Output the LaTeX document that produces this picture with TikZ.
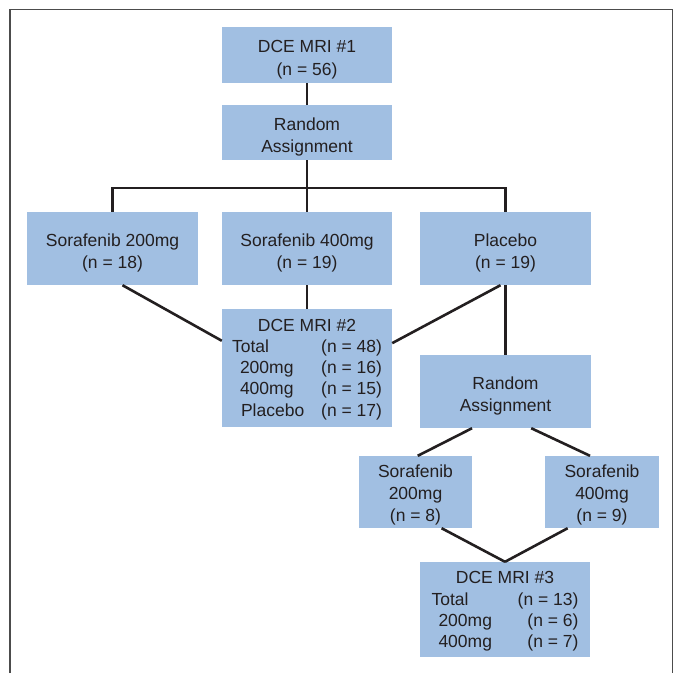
\documentclass[tikz,border=0pt]{standalone}
\usepackage{fontspec}
\setmainfont{Liberation Sans}
\usetikzlibrary{calc}
\definecolor{boxblue}{RGB}{161,191,226}
\definecolor{ink}{RGB}{35,31,32}
\newcommand\boxstrut[1]{\rule{0pt}{#1}}
\begin{document}
\begin{tikzpicture}[x=1pt,y=-1pt,
 box/.style={fill=boxblue, draw=none, inner sep=0pt, align=center, text=ink, font=\fontsize{17.5}{22.5}\selectfont},
 listbox/.style={box, font=\fontsize{17.5}{21.2}\selectfont},
 link/.style={line width=2.6pt, draw=ink},
 frame/.style={line width=1.3pt, draw=black!70}]
\useasboundingbox (0,0) rectangle (677,673);
\draw[frame] (10,673) -- (10,9.5) -- (672.5,9.5) -- (672.5,673);
% boxes
\node[box, minimum width=170pt, minimum height=56pt] (m1) at (307,55) {\boxstrut{22pt}DCE MRI \#1\\(n = 56)};
\node[box, minimum width=170pt, minimum height=55pt] (ra1) at (307,132.5) {\boxstrut{22pt}Random\\Assignment};
\node[box, minimum width=171pt, minimum height=73pt] (s200) at (112.5,248.5) {\boxstrut{22pt}Sorafenib 200mg\\(n = 18)};
\node[box, minimum width=170pt, minimum height=73pt] (s400) at (307,248.5) {\boxstrut{22pt}Sorafenib 400mg\\(n = 19)};
\node[box, minimum width=171pt, minimum height=73pt] (plc) at (505.5,248.5) {\boxstrut{22pt}Placebo\\(n = 19)};
\node[listbox, minimum width=170pt, minimum height=118pt] (m2) at (307,368) {\boxstrut{15pt}DCE MRI \#2\\
 \makebox[150pt]{Total\hfill(n = 48)}\\
 \makebox[150pt]{\hspace{8pt}200mg\hfill(n = 16)}\\
 \makebox[150pt]{\hspace{8pt}400mg\hfill(n = 15)}\\
 \makebox[150pt]{\hspace{9pt}Placebo\hfill(n = 17)}};
\node[box, minimum width=171pt, minimum height=73pt] (ra2) at (505.5,391.5) {\boxstrut{22pt}Random\\Assignment};
\node[box, font=\fontsize{17.5}{21.7}\selectfont, minimum width=113pt, minimum height=72pt] (s200b) at (415.5,492) {\boxstrut{19pt}Sorafenib\\200mg\\(n = 8)};
\node[box, font=\fontsize{17.5}{21.7}\selectfont, minimum width=114pt, minimum height=72pt] (s400b) at (602,492) {\boxstrut{19pt}Sorafenib\\400mg\\(n = 9)};
\node[listbox, minimum width=170pt, minimum height=95pt] (m3) at (505,609.5) {\boxstrut{16pt}DCE MRI \#3\\
 \makebox[147pt]{Total\hfill(n = 13)}\\
 \makebox[147pt]{\hspace{7pt}200mg\hfill(n = 6)}\\
 \makebox[147pt]{\hspace{7pt}400mg\hfill(n = 7)}};
% connectors
\coordinate (bus) at (307,188);
\draw[link] (m1.south) -- (ra1.north);
\draw[link] (ra1.south) -- (s400.north);
\draw[link] (s200.north) |- (bus) -| (plc.north);
\draw[link] (s400.south) -- (m2.north);
\draw[link] ($(s200.south)+(10,0)$) -- ($(m2.north west)!0.27!(m2.south west)$);
\draw[link] ($(plc.south)+(-5,0)$) -- ($(m2.north east)!0.29!(m2.south east)$);
\draw[link] (plc.south) -- (ra2.north);
\draw[link] ($(ra2.south west)!0.305!(ra2.south east)$) -- ($(s200b.north west)!0.52!(s200b.north east)$);
\draw[link] ($(ra2.south west)!0.65!(ra2.south east)$) -- ($(s400b.north west)!0.395!(s400b.north east)$);
\draw[link] ($(s200b.south west)!0.73!(s200b.south east)$) -- (m3.north);
\draw[link] ($(s400b.south west)!0.2!(s400b.south east)$) -- (m3.north);
\end{tikzpicture}
\end{document}
